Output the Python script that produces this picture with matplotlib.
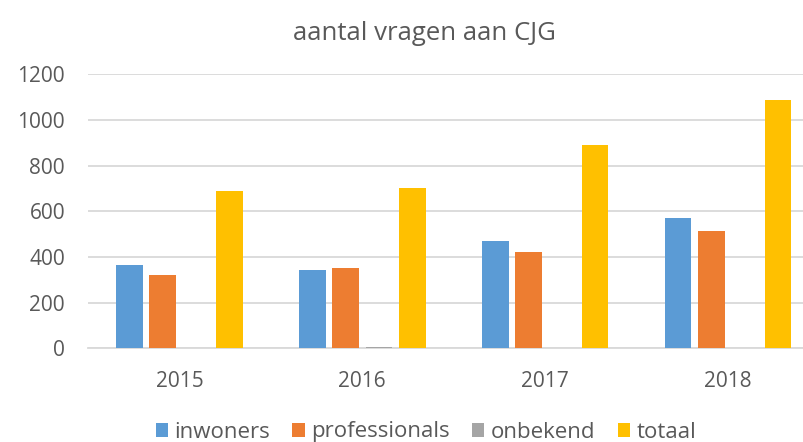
import matplotlib
matplotlib.use("Agg")
import matplotlib.pyplot as plt
import numpy as np

years = ["2015", "2016", "2017", "2018"]
series_names = ["inwoners", "professionals", "onbekend", "totaal"]
inwoners = [367, 345, 469, 572]
professionals = [319, 352, 422, 514]
onbekend = [0, 5, 0, 0]
totaal = [687, 700, 892, 1088]
yticks = [0, 200, 400, 600, 800, 1000, 1200]

colors = ["#5B9BD5", "#ED7D31", "#A5A5A5", "#FFC000"]
text_color = "#595959"
grid_color = "#D9D9D9"

plt.rcParams['font.family'] = ['Open Sans', 'DejaVu Sans']

fig = plt.figure(figsize=(8.04, 4.42), dpi=100)
ax = fig.add_axes([88/804, 93.7/442, (819.5-88)/804, 274/442])

x = np.arange(len(years))
slot = 0.182
width = 0.146
data = [inwoners, professionals, onbekend, totaal]
for i, (name, vals, c) in enumerate(zip(series_names, data, colors)):
    ax.bar(x + (i - 1.5) * slot, vals, width=width, color=c, label=name, zorder=3)

ax.set_xlim(-0.5, len(years) - 0.5)
ax.set_ylim(0, 1200)
ax.set_yticks(yticks)
ax.set_yticklabels([str(v) for v in yticks])
ax.set_xticks(x)
ax.set_xticklabels(years)
ax.yaxis.grid(True, color=grid_color, linewidth=1.3, zorder=0)
ax.set_axisbelow(True)
for s in ["top", "right", "left"]:
    ax.spines[s].set_visible(False)
ax.spines["bottom"].set_color(grid_color)
ax.spines["bottom"].set_linewidth(1.3)
ax.tick_params(axis="both", length=0, labelsize=15, labelcolor=text_color)
ax.tick_params(axis="y", pad=16.5)
ax.tick_params(axis="x", pad=16)

fig.text(424/804, 1 - 33/442, "aantal vragen aan CJG", ha="center", va="center",
         fontsize=18.5, color=text_color)

leg = fig.legend(loc="center", bbox_to_anchor=(426/804, 1 - 432/442), ncol=4,
                 frameon=False, fontsize=16, handlelength=0.55, handleheight=0.6,
                 handletextpad=0.3, columnspacing=1.0, borderpad=0, borderaxespad=0)
for t in leg.get_texts():
    t.set_color(text_color)

fig.savefig("out.png", dpi=100)
